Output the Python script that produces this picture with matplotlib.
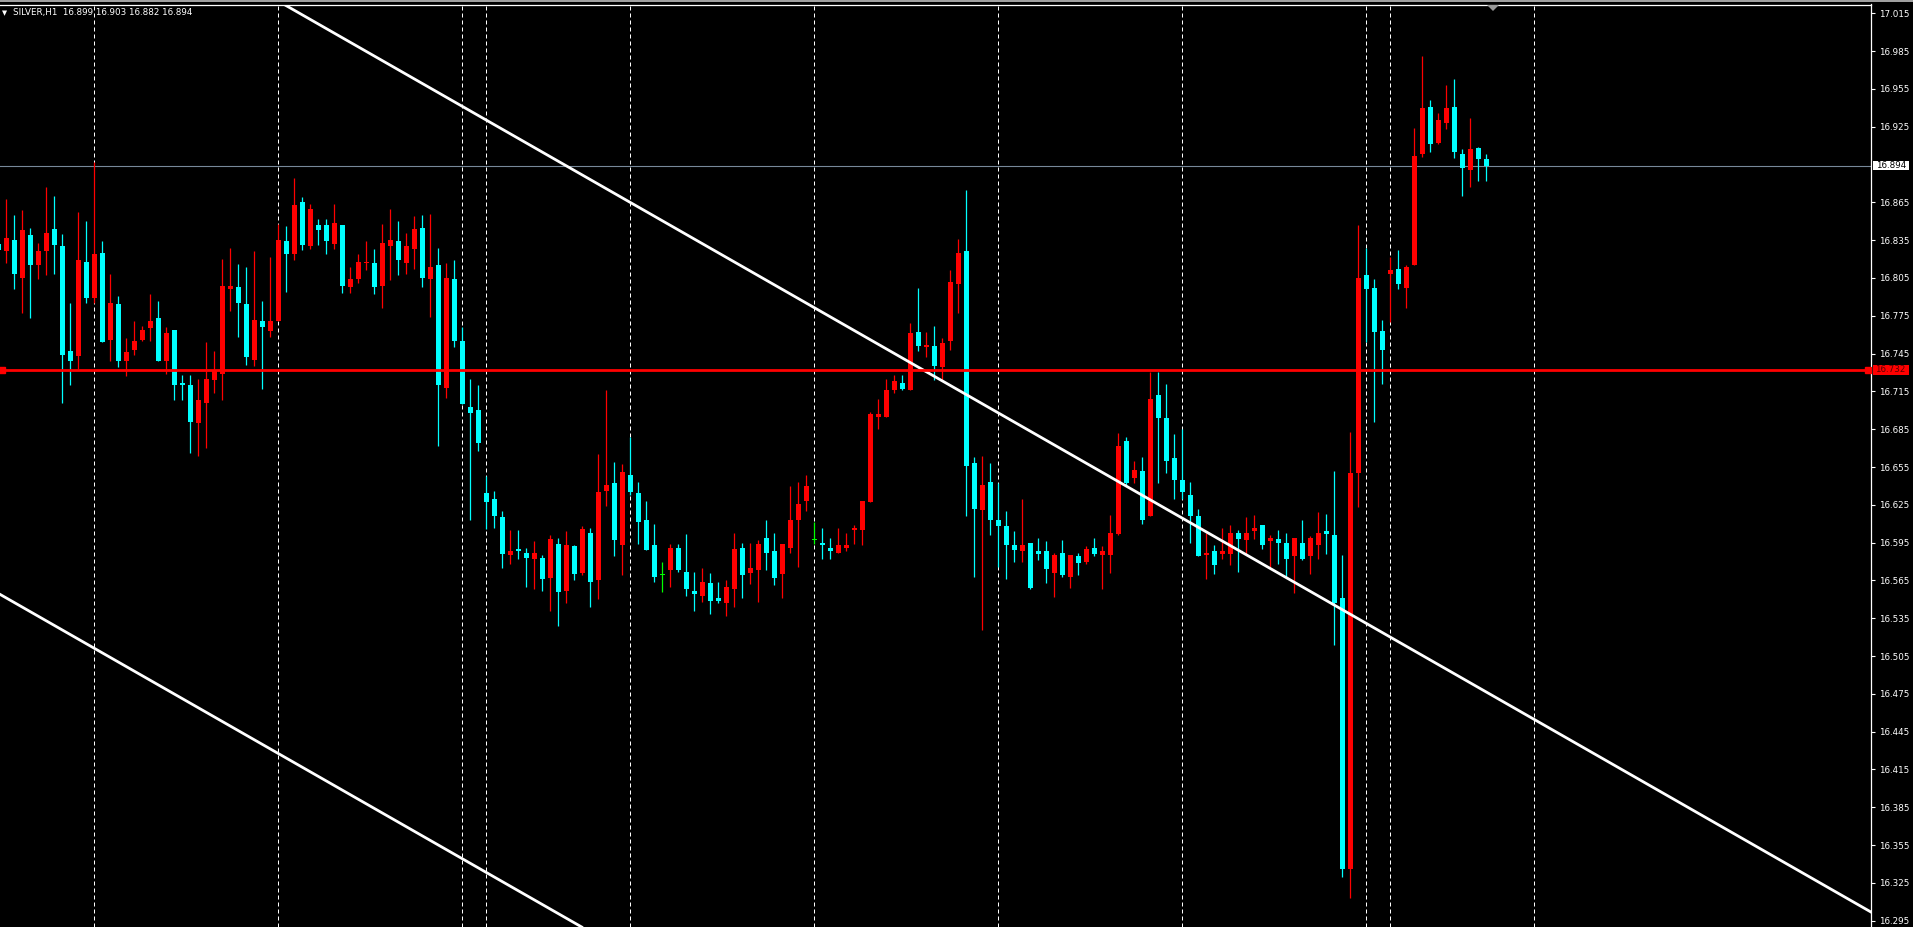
import matplotlib
matplotlib.use('Agg')
import matplotlib.pyplot as plt
from matplotlib.patches import Rectangle, Polygon
from matplotlib.transforms import blended_transform_factory

# SILVER H1 candles, bar index -1 is the one cut by the left edge
first_bar = -1
opens = [16.832, 16.826, 16.835, 16.805, 16.839, 16.815, 16.826, 16.844, 16.830, 16.747,
         16.743, 16.818, 16.789, 16.825, 16.756, 16.784, 16.739, 16.748, 16.756, 16.765,
         16.773, 16.739, 16.764, 16.722, 16.720, 16.690, 16.706, 16.724, 16.729, 16.796,
         16.798, 16.784, 16.740, 16.771, 16.763, 16.771, 16.834, 16.824, 16.865, 16.830,
         16.847, 16.847, 16.832, 16.847, 16.798, 16.804, 16.817, 16.817, 16.799, 16.830,
         16.834, 16.817, 16.828, 16.845, 16.804, 16.815, 16.718, 16.804, 16.755, 16.703,
         16.700, 16.634, 16.630, 16.615, 16.585, 16.590, 16.587, 16.582, 16.583, 16.567,
         16.594, 16.557, 16.592, 16.571, 16.603, 16.565, 16.636, 16.642, 16.593, 16.649,
         16.634, 16.613, 16.593, 16.569, 16.573, 16.591, 16.572, 16.557, 16.553, 16.563,
         16.551, 16.547, 16.558, 16.591, 16.571, 16.573, 16.599, 16.588, 16.570, 16.591,
         16.613, 16.628, 16.597, 16.595, 16.591, 16.587, 16.591, 16.605, 16.605, 16.627,
         16.695, 16.695, 16.716, 16.722, 16.716, 16.762, 16.750, 16.751, 16.734, 16.755,
         16.800, 16.826, 16.658, 16.621, 16.643, 16.613, 16.608, 16.593, 16.588, 16.595,
         16.588, 16.588, 16.571, 16.587, 16.568, 16.584, 16.580, 16.591, 16.585, 16.585,
         16.602, 16.676, 16.646, 16.652, 16.616, 16.712, 16.694, 16.662, 16.645, 16.633,
         16.616, 16.585, 16.588, 16.586, 16.586, 16.603, 16.597, 16.604, 16.609, 16.596,
         16.598, 16.595, 16.584, 16.595, 16.584, 16.593, 16.604, 16.601, 16.551, 16.336,
         16.650, 16.807, 16.797, 16.763, 16.808, 16.812, 16.797, 16.815, 16.903, 16.941,
         16.912, 16.928, 16.941, 16.903, 16.891, 16.908, 16.899]
highs = [16.840, 16.868, 16.855, 16.859, 16.845, 16.833, 16.877, 16.870, 16.840, 16.785,
         16.857, 16.850, 16.897, 16.834, 16.808, 16.791, 16.757, 16.771, 16.767, 16.792,
         16.787, 16.766, 16.764, 16.728, 16.728, 16.725, 16.754, 16.747, 16.820, 16.829,
         16.816, 16.814, 16.826, 16.787, 16.822, 16.848, 16.846, 16.884, 16.869, 16.864,
         16.852, 16.852, 16.864, 16.847, 16.814, 16.824, 16.834, 16.828, 16.848, 16.860,
         16.850, 16.841, 16.854, 16.855, 16.856, 16.829, 16.817, 16.819, 16.766, 16.725,
         16.720, 16.648, 16.636, 16.620, 16.605, 16.605, 16.591, 16.596, 16.585, 16.601,
         16.599, 16.604, 16.593, 16.608, 16.607, 16.665, 16.716, 16.659, 16.657, 16.679,
         16.643, 16.628, 16.610, 16.580, 16.594, 16.594, 16.602, 16.572, 16.575, 16.571,
         16.564, 16.565, 16.603, 16.595, 16.595, 16.597, 16.613, 16.603, 16.594, 16.640,
         16.643, 16.649, 16.611, 16.607, 16.599, 16.607, 16.603, 16.609, 16.628, 16.699,
         16.709, 16.725, 16.728, 16.728, 16.769, 16.797, 16.762, 16.767, 16.757, 16.811,
         16.836, 16.875, 16.663, 16.664, 16.658, 16.642, 16.620, 16.604, 16.630, 16.595,
         16.599, 16.596, 16.587, 16.597, 16.585, 16.587, 16.592, 16.599, 16.592, 16.617,
         16.682, 16.679, 16.660, 16.663, 16.730, 16.730, 16.721, 16.681, 16.685, 16.643,
         16.622, 16.603, 16.593, 16.607, 16.609, 16.605, 16.615, 16.617, 16.609, 16.601,
         16.605, 16.603, 16.599, 16.613, 16.600, 16.619, 16.618, 16.652, 16.585, 16.683,
         16.847, 16.829, 16.804, 16.772, 16.822, 16.827, 16.815, 16.924, 16.981, 16.946,
         16.936, 16.958, 16.963, 16.907, 16.932, 16.909, 16.903]
lows = [16.820, 16.817, 16.796, 16.777, 16.773, 16.804, 16.807, 16.808, 16.706, 16.720,
        16.733, 16.785, 16.785, 16.754, 16.739, 16.734, 16.727, 16.744, 16.755, 16.755,
        16.739, 16.729, 16.708, 16.708, 16.666, 16.664, 16.670, 16.714, 16.708, 16.779,
        16.758, 16.736, 16.735, 16.717, 16.758, 16.771, 16.794, 16.819, 16.827, 16.828,
        16.831, 16.824, 16.828, 16.793, 16.793, 16.801, 16.811, 16.792, 16.781, 16.803,
        16.807, 16.808, 16.812, 16.798, 16.774, 16.672, 16.710, 16.750, 16.705, 16.613,
        16.668, 16.606, 16.607, 16.575, 16.578, 16.582, 16.560, 16.558, 16.557, 16.541,
        16.529, 16.547, 16.565, 16.569, 16.544, 16.550, 16.624, 16.584, 16.569, 16.633,
        16.594, 16.589, 16.564, 16.556, 16.560, 16.572, 16.553, 16.541, 16.548, 16.538,
        16.547, 16.537, 16.544, 16.551, 16.562, 16.548, 16.573, 16.561, 16.551, 16.587,
        16.576, 16.620, 16.594, 16.582, 16.582, 16.587, 16.588, 16.594, 16.593, 16.627,
        16.685, 16.695, 16.714, 16.716, 16.716, 16.747, 16.742, 16.724, 16.724, 16.748,
        16.777, 16.616, 16.568, 16.526, 16.601, 16.576, 16.566, 16.580, 16.580, 16.558,
        16.581, 16.563, 16.552, 16.568, 16.559, 16.569, 16.578, 16.584, 16.558, 16.571,
        16.601, 16.640, 16.642, 16.610, 16.616, 16.642, 16.650, 16.630, 16.630, 16.595,
        16.584, 16.566, 16.570, 16.582, 16.577, 16.572, 16.586, 16.598, 16.590, 16.576,
        16.578, 16.568, 16.555, 16.581, 16.570, 16.582, 16.586, 16.514, 16.330, 16.313,
        16.623, 16.754, 16.691, 16.721, 16.770, 16.796, 16.781, 16.815, 16.901, 16.905,
        16.911, 16.923, 16.900, 16.870, 16.877, 16.882, 16.882]
closes = [16.827, 16.837, 16.808, 16.843, 16.815, 16.826, 16.841, 16.831, 16.744, 16.739,
          16.819, 16.789, 16.824, 16.754, 16.785, 16.739, 16.746, 16.755, 16.764, 16.771,
          16.739, 16.761, 16.720, 16.720, 16.691, 16.708, 16.725, 16.731, 16.799, 16.799,
          16.785, 16.742, 16.772, 16.766, 16.771, 16.835, 16.824, 16.863, 16.831, 16.860,
          16.843, 16.834, 16.849, 16.799, 16.804, 16.818, 16.818, 16.798, 16.833, 16.835,
          16.819, 16.830, 16.844, 16.805, 16.814, 16.720, 16.805, 16.755, 16.705, 16.698,
          16.674, 16.627, 16.616, 16.586, 16.588, 16.588, 16.583, 16.587, 16.566, 16.598,
          16.556, 16.593, 16.570, 16.606, 16.564, 16.635, 16.641, 16.597, 16.651, 16.635,
          16.611, 16.589, 16.568, 16.569, 16.591, 16.573, 16.558, 16.554, 16.564, 16.549,
          16.549, 16.560, 16.590, 16.569, 16.575, 16.594, 16.587, 16.567, 16.594, 16.613,
          16.626, 16.640, 16.597, 16.593, 16.588, 16.593, 16.593, 16.607, 16.628, 16.697,
          16.697, 16.716, 16.723, 16.717, 16.761, 16.751, 16.752, 16.735, 16.753, 16.802,
          16.825, 16.656, 16.622, 16.641, 16.613, 16.608, 16.593, 16.589, 16.593, 16.559,
          16.586, 16.574, 16.585, 16.569, 16.585, 16.579, 16.590, 16.586, 16.588, 16.603,
          16.672, 16.642, 16.653, 16.613, 16.709, 16.694, 16.660, 16.645, 16.635, 16.616,
          16.584, 16.587, 16.577, 16.588, 16.603, 16.598, 16.603, 16.607, 16.593, 16.599,
          16.595, 16.582, 16.599, 16.582, 16.599, 16.603, 16.602, 16.547, 16.336, 16.650,
          16.805, 16.796, 16.762, 16.748, 16.811, 16.800, 16.814, 16.902, 16.940, 16.911,
          16.930, 16.940, 16.905, 16.892, 16.907, 16.899, 16.894]

symbol = "SILVER,H1"
# day separators (bar index)
separators = [11, 34, 57, 60, 78, 101, 124, 147, 170, 173, 191]
bid_price = 16.894
level_price = 16.732
# trend channel, two anchor points each: (bar, price)
trend_upper = [(0, 17.148), (230, 16.313)]
trend_lower = [(0, 16.551), (100, 16.188)]
price_ticks = [17.015, 16.985, 16.955, 16.925, 16.865, 16.835, 16.805, 16.775,
               16.745, 16.715, 16.685, 16.655, 16.625, 16.595, 16.565, 16.535, 16.505,
               16.475, 16.445, 16.415, 16.385, 16.355, 16.325, 16.295]

W, H = 1913, 927
PX = 1260.3          # pixels per price unit
BAR = 8.0            # pixels per bar
plot_right = 1871.0  # axis line
plot_top = 4.5
fs = 6.3

fig = plt.figure(figsize=(W / 100, H / 100), dpi=100, facecolor='black')
ax = fig.add_axes([0, 0, plot_right / W, (H - plot_top) / H])
ax.set_facecolor('black')

# x: bar index, pixel = 6.5 + 8*k
ax.set_xlim(-6.5 / BAR, (plot_right - 6.5) / BAR)
ax.set_ylim(17.015 - (H - 13.3) / PX, 17.015 + (13.3 - plot_top) / PX)

bars = range(first_bar, first_bar + len(opens))
cols = []
for o, c in zip(opens, closes):
    if c > o:
        cols.append('#ff0000')
    elif c < o:
        cols.append('#00ffff')
    else:
        cols.append('#00ff00')

# separators behind candles
for s in separators:
    ax.axvline(s, color='white', lw=0.72, ls=(0, (4, 3)), zorder=1)

ax.vlines(list(bars), lows, highs, colors=cols, lw=0.9, zorder=3)
bottoms = [min(o, c) for o, c in zip(opens, closes)]
heights = [max(abs(c - o), 1.2 / PX) for o, c in zip(opens, closes)]
ax.bar(list(bars), heights, bottom=bottoms, width=5.2 / BAR, color=cols,
       linewidth=0, zorder=4)

# trend lines
for (x0, y0), (x1, y1) in [trend_upper, trend_lower]:
    ax.axline((x0, y0), (x1, y1), color='white', lw=2.0, zorder=5)

ax.axhline(bid_price, color='#778899', lw=0.8, zorder=2)
ax.axhline(level_price, color='#ff0000', lw=2.0, zorder=6)

# right price scale
ax.yaxis.tick_right()
ax.set_yticks(price_ticks)
ax.set_yticklabels(['%.3f' % p for p in price_ticks])
ax.tick_params(axis='y', colors='white', length=3, width=0.8, pad=3,
               labelsize=fs, labelcolor='white')
ax.set_xticks([])
for side in ['left', 'bottom']:
    ax.spines[side].set_visible(False)
for side in ['right', 'top']:
    ax.spines[side].set_color('white')
    ax.spines[side].set_linewidth(0.9)

# price boxes on the scale
tr = blended_transform_factory(ax.transAxes, ax.transData)
ax_w = plot_right
for price, fc, tc in [(bid_price, 'white', 'black'), (level_price, '#ff0000', '#5a0000')]:
    ax.add_patch(Rectangle((1 + 1.7 / ax_w, price - 4.6 / PX), 36 / ax_w, 9.2 / PX,
                           transform=tr, facecolor=fc, edgecolor='none',
                           clip_on=False, zorder=10))
    ax.text(1 + 19.7 / ax_w, price, '%.3f' % price, transform=tr, ha='center',
            va='center', fontsize=fs, color=tc, clip_on=False, zorder=11)

# anchor squares of the selected horizontal line
ax.plot([-6.5 / BAR + 1.5 / BAR, (plot_right - 6.5) / BAR - 2.5 / BAR],
        [level_price, level_price], ls='none', marker='s', ms=4.5,
        color='#ff0000', clip_on=False, zorder=7)

# chart header
fig.text(4.5 / W, 1 - 12.7 / H, '\u25bc', color='white', fontsize=4.8,
         ha='center', va='center')
fig.text(13.3 / W, 1 - 12.7 / H,
         '%s  %.3f %.3f %.3f %.3f' % (symbol, opens[-1], highs[-1], lows[-1], closes[-1]),
         color='white', fontsize=fs, ha='left', va='center')

# thin grey strip at the very top and the shift marker
fig.add_artist(Rectangle((0, 1 - 1.5 / H), 1, 1.5 / H, transform=fig.transFigure,
                         facecolor='#a0a0a0', edgecolor='none'))
fig.add_artist(Polygon([[1487 / W, 1 - 5 / H], [1499 / W, 1 - 5 / H],
                        [1493 / W, 1 - 11 / H]], closed=True, transform=fig.transFigure,
                       facecolor='#9a9a9a', edgecolor='none', zorder=20))

fig.savefig('out.png', dpi=100, facecolor='black')
